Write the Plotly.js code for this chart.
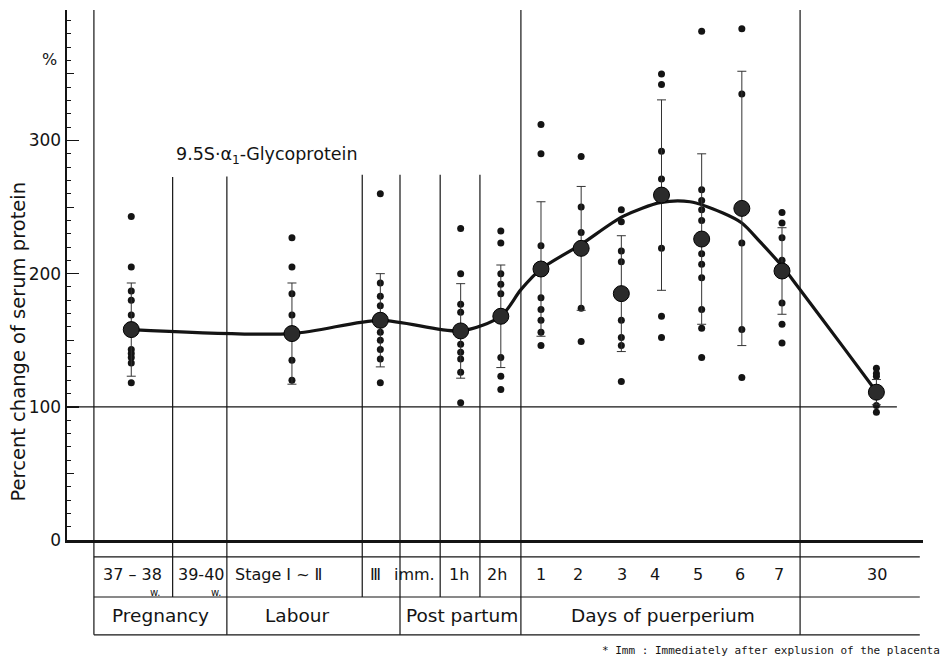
<!DOCTYPE html>
<html>
<head>
<meta charset="utf-8">
<script src="https://cdn.plot.ly/plotly-3.0.1.min.js"></script>
<style>html,body{margin:0;padding:0;background:#fff;}#chart{width:944px;height:663px;}</style>
</head>
<body>
<div id="chart"></div>
<script>
// ---- Data ----
// x value of each sampling group on the time axis (days of puerperium = 1..7)
const groupNames = ['37-38 w', 'Stage I-II', 'III', '1h', '2h', 'Day 1', 'Day 2', 'Day 3', 'Day 4', 'Day 5', 'Day 6', 'Day 7', 'Day 30'];
const groupX = [-9.2, -5.2, -3.0, -1.0, 0, 1, 2, 3, 4, 5, 6, 7, 9.35];
const groupMean = [158, 155, 165, 157, 168, 203.5, 219, 185, 259, 226, 249, 202, 111];
const groupSD = [35, 38, 35, 35.5, 38.5, 50.5, 46.5, 43.5, 71.5, 64, 103, 32.5, 9.5];
const groupDots = [
  [243, 205, 187, 180, 169, 143, 140, 137, 133, 118],
  [227, 205, 185, 169, 135, 120],
  [260, 193, 183, 176, 156, 150, 143, 136, 118],
  [234, 200, 177, 171, 147, 141, 136, 126, 103],
  [232, 223, 200, 192, 185, 137, 123, 113],
  [312, 290, 221, 182, 173, 165, 156, 146],
  [288, 250, 231, 174, 149],
  [248, 239, 217, 209, 165, 152, 146, 119],
  [350, 342, 292, 271, 219, 168, 152],
  [382, 263, 255, 248, 240, 215, 207, 197, 173, 159, 137],
  [384, 335, 223, 158, 122],
  [246, 238, 227, 210, 178, 162, 148],
  [129, 125, 123, 101, 96]
];
// hand-drawn trend curve, read point by point
const curveX = [-9.21, -5.2, -3.01, -0.99, 0, 0.5, 1, 2, 3.04, 3.99, 4.71, 5.53, 6.0, 6.45, 7.02, 7.4, 8.52, 9.36];
const curveY = [158, 155, 165, 157, 168, 188, 203.5, 222, 243, 253.5, 254, 245.5, 238, 224, 205, 190, 145, 111];

// table below the axis
const row1Labels = ['37 – 38', '39-40', 'Stage Ⅰ ~ Ⅱ', 'Ⅲ', 'imm.', '1h', '2h', '1', '2', '3', '4', '5', '6', '7', '30'];
const row1X = [-9.18, -7.46, -5.52, -3.11, -2.16, -1.05, -0.1, 1, 1.92, 3.02, 3.84, 4.91, 5.95, 6.92, 9.36];
const weekMarkX = [-8.6, -7.08];
const row2Labels = ['Pregnancy', 'Labour', 'Post partum', 'Days of puerperium'];
const row2X = [-8.48, -5.07, -0.97, 4.04];
// column boundaries: [x, top (paper), bottom (paper)]
const boundX = [-10.13, -8.17, -6.82, -3.45, -2.51, -1.51, -0.52, 0.5, 7.45];
const boundTop = [1.0, 0.685, 0.686, 0.689, 0.689, 0.689, 0.689, 1.0, 1.0];
const boundBottom = [-0.179, -0.1075, -0.179, -0.1075, -0.179, -0.1075, -0.1075, -0.179, -0.179];
const tableRowY = [-0.032, -0.1075, -0.179];
const tableXEnd = 10.43;
const refLineEnd = 9.86;

// ---- Build traces ----
const dotX = [], dotY = [];
groupDots.forEach((arr, i) => arr.forEach(v => { dotX.push(groupX[i]); dotY.push(v); }));

const ink = '#141414';
const traces = [
  {x: curveX, y: curveY, mode: 'lines', type: 'scatter', line: {shape: 'spline', smoothing: 0.8, color: ink, width: 3.2}, hoverinfo: 'skip'},
  {x: dotX, y: dotY, mode: 'markers', type: 'scatter', marker: {size: 7, color: ink}},
  {x: groupX, y: groupMean, mode: 'markers', type: 'scatter',
   marker: {size: 16, color: '#2b2b2b', line: {color: '#000', width: 1}},
   error_y: {type: 'data', array: groupSD, visible: true, thickness: 1, width: 4.5, color: '#333'}},
  {x: [null], y: [null], yaxis: 'y2', type: 'scatter', mode: 'markers', showlegend: false}
];

const shapes = [];
shapes.push({type: 'line', xref: 'x', yref: 'y', x0: -10.8, x1: refLineEnd, y0: 100, y1: 100, line: {color: ink, width: 1.1}});
boundX.forEach((bx, i) => shapes.push({type: 'line', xref: 'x', yref: 'paper', x0: bx, x1: bx, y0: boundBottom[i], y1: boundTop[i], line: {color: ink, width: 1.2}}));
tableRowY.forEach(ry => shapes.push({type: 'line', xref: 'x', yref: 'paper', x0: boundX[0], x1: tableXEnd, y0: ry, y1: ry, line: {color: ink, width: 1.2}}));

const txtFont = {family: 'DejaVu Sans', size: 16, color: ink};
const annotations = [];
row1Labels.forEach((t, i) => annotations.push({xref: 'x', yref: 'paper', x: row1X[i], y: -0.065, text: t, showarrow: false, xanchor: 'center', yanchor: 'middle', font: txtFont}));
weekMarkX.forEach(wx => annotations.push({xref: 'x', yref: 'paper', x: wx, y: -0.0995, text: 'w.', showarrow: false, xanchor: 'center', yanchor: 'middle', font: {family: 'DejaVu Sans', size: 10, color: ink}}));
row2Labels.forEach((t, i) => annotations.push({xref: 'x', yref: 'paper', x: row2X[i], y: -0.143, text: t, showarrow: false, xanchor: 'center', yanchor: 'middle', font: {family: 'DejaVu Sans', size: 18.5, color: ink}}));
annotations.push({xref: 'paper', yref: 'paper', x: 1.022, y: -0.208, text: '* Imm : Immediately after explusion of the placenta', showarrow: false, xanchor: 'right', yanchor: 'middle', font: {family: 'DejaVu Sans Mono', size: 11, color: ink}});
annotations.push({xref: 'paper', yref: 'paper', x: -0.057, y: 0.375, text: 'Percent change of serum protein', textangle: -90, showarrow: false, xanchor: 'center', yanchor: 'middle', font: {family: 'DejaVu Sans', size: 19.5, color: ink}});
annotations.push({xref: 'paper', yref: 'paper', x: -0.021, y: 0.906, text: '%', showarrow: false, xanchor: 'center', yanchor: 'middle', font: {family: 'DejaVu Sans', size: 16, color: ink}});
annotations.push({xref: 'paper', yref: 'paper', x: 0.2336, y: 0.726, text: '9.5S·α<sub>1</sub>-Glycoprotein', showarrow: false, xanchor: 'center', yanchor: 'middle', font: {family: 'DejaVu Sans', size: 17.5, color: ink}});

const layout = {
  width: 944, height: 663,
  margin: {l: 67, r: 21, t: 10, b: 123, pad: 0},
  paper_bgcolor: '#fff', plot_bgcolor: '#fff',
  showlegend: false,
  xaxis: {range: [-10.8, 10.51], showline: true, linewidth: 2.5, linecolor: ink, showgrid: false, zeroline: false, showticklabels: false, ticks: ''},
  yaxis: {range: [0, 398], showline: true, linewidth: 2.5, linecolor: ink, showgrid: false, zeroline: false,
          ticks: 'inside', ticklen: 12, tickwidth: 1.5, tickcolor: ink, tick0: 0, dtick: 100,
          tickfont: {family: 'DejaVu Sans', size: 17, color: ink},
          minor: {tick0: 0, dtick: 10, ticks: 'inside', ticklen: 4, tickwidth: 1, tickcolor: ink, showgrid: false}},
  yaxis2: {overlaying: 'y', anchor: 'x', side: 'left', range: [0, 398], showline: false, showgrid: false, zeroline: false,
           showticklabels: false, ticks: 'inside', ticklen: 7, tickwidth: 1, tickcolor: ink, tick0: 0, dtick: 50},
  shapes: shapes,
  annotations: annotations
};

Plotly.newPlot('chart', traces, layout, {displayModeBar: false, staticPlot: true});
</script>
</body>
</html>
